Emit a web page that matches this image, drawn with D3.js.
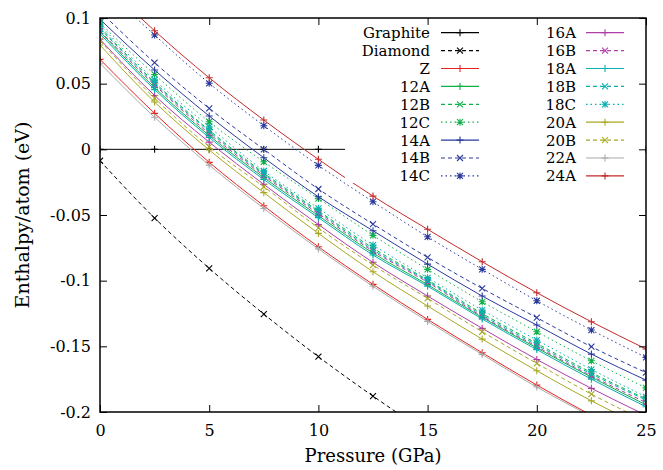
<!DOCTYPE html>
<html><head><meta charset="utf-8">
<script src="https://cdn.jsdelivr.net/npm/d3@7"></script>
<style>
body{margin:0;background:#fff}
svg{display:block}
</style>
</head><body>
<svg id="chart" width="663" height="470"></svg>
<script>
// ---------------- data ----------------
const pressure = [0, 2.5, 5, 7.5, 10, 12.5, 15, 17.5, 20, 22.5, 25];
const xTicks = [0, 5, 10, 15, 20, 25];
const yTicks = [0.1, 0.05, 0, -0.05, -0.1, -0.15, -0.2];
const yTickLabels = ["0.1", "0.05", "0", "-0.05", "-0.1", "-0.15", "-0.2"];

const graphite = [0, 0, 0, 0, 0, 0, 0, 0, 0, 0, 0];
const diamond  = [-0.0087, -0.0523, -0.0906, -0.1254, -0.1579, -0.1879, -0.216];
const z        = [0.0685, 0.0274, -0.0099, -0.0430, -0.0742, -0.1028, -0.1295, -0.1549, -0.1795, -0.2025, -0.224];
const s12A     = [0.0896, 0.0470, 0.0105, -0.0215, -0.0505, -0.0790, -0.1030, -0.1280, -0.1512, -0.1735, -0.1945];
const s12B     = [0.0930, 0.0510, 0.0145, -0.0180, -0.0468, -0.0752, -0.0995, -0.1250, -0.1478, -0.1700, -0.1900];
const s12C     = [0.0960, 0.0570, 0.0210, -0.0095, -0.0375, -0.0655, -0.0914, -0.1161, -0.1389, -0.1610, -0.1816];
const s14A     = [0.0990, 0.0604, 0.0254, -0.0064, -0.0361, -0.0620, -0.0874, -0.1117, -0.1338, -0.1559, -0.1757];
const s14B     = [0.1050, 0.0660, 0.0312, 0.0000, -0.0302, -0.0569, -0.0823, -0.1059, -0.1282, -0.1503, -0.1700];
const s14C     = [0.1260, 0.0870, 0.0503, 0.0180, -0.0122, -0.0399, -0.0666, -0.0914, -0.1153, -0.1376, -0.1584];
const s16A     = [0.0838, 0.0410, 0.0055, -0.0267, -0.0573, -0.0861, -0.1117, -0.1363, -0.1600, -0.1820, -0.2025];
const s16B     = [0.0900, 0.0490, 0.0120, -0.0200, -0.0490, -0.0775, -0.1012, -0.1272, -0.1502, -0.1725, -0.1928];
const s18A     = [0.0880, 0.0455, 0.0090, -0.0230, -0.0520, -0.0805, -0.1042, -0.1292, -0.1525, -0.1750, -0.1960];
const s18B     = [0.0920, 0.0500, 0.0135, -0.0190, -0.0478, -0.0765, -0.1003, -0.1262, -0.1490, -0.1711, -0.1909];
const s18C     = [0.0947, 0.0528, 0.0172, -0.0165, -0.0449, -0.0729, -0.0978, -0.1224, -0.1452, -0.1676, -0.1884];
const s20A     = [0.0794, 0.0360, -0.0005, -0.0330, -0.0640, -0.0932, -0.1193, -0.1445, -0.1686, -0.1915, -0.2120];
const s20B     = [0.0827, 0.0390, 0.0020, -0.0285, -0.0598, -0.0881, -0.1135, -0.1389, -0.1630, -0.1864, -0.2070];
const s22A     = [0.0655, 0.0244, -0.0120, -0.0450, -0.0758, -0.1043, -0.1310, -0.1562, -0.1810, -0.2035, -0.2250];
const s24A     = [0.1300, 0.0903, 0.0545, 0.0223, -0.0076, -0.0356, -0.0609, -0.0856, -0.1092, -0.1313, -0.1520];

const seriesNames  = ["Graphite","Diamond","Z","12A","12B","12C","14A","14B","14C","16A","16B","18A","18B","18C","20A","20B","22A","24A"];
const seriesValues = [graphite, diamond, z, s12A, s12B, s12C, s14A, s14B, s14C, s16A, s16B, s18A, s18B, s18C, s20A, s20B, s22A, s24A];
const seriesColors = ["#000000","#000000","#e8231e","#12b04a","#12b04a","#12b04a","#2a3a9c","#2a3a9c","#2a3a9c","#b03ea8","#b03ea8","#0aaeae","#0aaeae","#0aaeae","#a8a824","#a8a824","#aaaaaa","#c42a2a"];
const seriesDash   = ["solid","dash","solid","solid","dash","dot","solid","dash","dot","solid","dash","solid","dash","dot","solid","dash","solid","solid"];
const seriesMarker = ["plus","cross","plus","plus","cross","star","plus","cross","star","plus","cross","plus","cross","star","plus","cross","plus","plus"];

// ---------------- drawing ----------------
const FONT = "DejaVu Serif";
const svg = d3.select("#chart");
const L = 100, R = 646, T = 18, B = 412;
const x = d3.scaleLinear().domain([0, 25]).range([L, R]);
const y = d3.scaleLinear().domain([-0.2, 0.1]).range([B, T]);

svg.append("defs").append("clipPath").attr("id", "clip")
  .append("rect").attr("x", L).attr("y", T).attr("width", R - L).attr("height", B - T);

const dashMap = {solid: null, dash: "4,3", dot: "1.5,3"};
const markerPath = {
  plus:  "M-3.5,0H3.5M0,-3.5V3.5",
  cross: "M-3,-3L3,3M-3,3L3,-3",
  star:  "M-3.5,0H3.5M0,-3.5V3.5M-3,-3L3,3M-3,3L3,-3"
};

const line = d3.line().x(d => x(d[0])).y(d => y(d[1])).curve(d3.curveMonotoneX);
const plot = svg.append("g").attr("clip-path", "url(#clip)");

seriesNames.forEach((name, i) => {
  const pts = seriesValues[i].map((v, j) => [pressure[j], v]);
  const g = plot.append("g");
  g.append("path").datum(pts)
    .attr("d", line)
    .attr("fill", "none")
    .attr("stroke", seriesColors[i])
    .attr("stroke-width", 1)
    .attr("stroke-dasharray", dashMap[seriesDash[i]]);
  g.selectAll("path.m").data(pts).enter().append("path")
    .attr("class", "m")
    .attr("transform", d => `translate(${x(d[0])},${y(d[1])})`)
    .attr("d", markerPath[seriesMarker[i]])
    .attr("fill", "none")
    .attr("stroke", seriesColors[i])
    .attr("stroke-width", 1.1);
});

// ---------------- legend (opaque) ----------------
const leg = svg.append("g");
leg.append("rect").attr("x", 345).attr("y", T + 1).attr("width", R - 346).attr("height", 164).attr("fill", "#fff");
const rowH = 17.9, row0 = 32.7;
seriesNames.forEach((name, i) => {
  const col = i < 9 ? 0 : 1;
  const r = i % 9;
  const tx = col === 0 ? 430 : 576;
  const lx0 = col === 0 ? 441 : 586;
  const lx1 = lx0 + 38;
  const cy = row0 + r * rowH;
  leg.append("text").attr("x", tx).attr("y", cy).attr("dy", "0.36em")
    .attr("text-anchor", "end").attr("font-family", FONT).attr("font-size", 15).text(name);
  leg.append("line").attr("x1", lx0).attr("x2", lx1).attr("y1", cy).attr("y2", cy)
    .attr("stroke", seriesColors[i]).attr("stroke-width", 1.2)
    .attr("stroke-dasharray", dashMap[seriesDash[i]]);
  leg.append("path").attr("transform", `translate(${(lx0 + lx1) / 2},${cy})`)
    .attr("d", markerPath[seriesMarker[i]]).attr("fill", "none")
    .attr("stroke", seriesColors[i]).attr("stroke-width", 1.1);
});

// ---------------- axes ----------------
const fmtY = d => yTickLabels[yTicks.indexOf(d)];
const axL = svg.append("g").attr("transform", `translate(${L},0)`)
  .call(d3.axisLeft(y).tickValues(yTicks).tickSize(-7).tickPadding(9).tickFormat(fmtY));
const axR = svg.append("g").attr("transform", `translate(${R},0)`)
  .call(d3.axisRight(y).tickValues(yTicks).tickSize(-7).tickFormat(""));
const axB = svg.append("g").attr("transform", `translate(0,${B})`)
  .call(d3.axisBottom(x).tickValues(xTicks).tickSize(-7).tickPadding(13).tickFormat(d => String(d)));
const axT = svg.append("g").attr("transform", `translate(0,${T})`)
  .call(d3.axisTop(x).tickValues(xTicks).tickSize(-7).tickFormat(""));
[axL, axR, axB, axT].forEach(a => {
  a.attr("font-family", FONT).attr("font-size", 16);
  a.select(".domain").remove();
  a.selectAll(".tick line").attr("stroke", "#000").attr("stroke-width", 1);
});
svg.append("rect").attr("x", L).attr("y", T).attr("width", R - L).attr("height", B - T)
  .attr("fill", "none").attr("stroke", "#000").attr("stroke-width", 1.5);

svg.append("text").attr("x", (L + R) / 2).attr("y", 462).attr("text-anchor", "middle")
  .attr("font-family", FONT).attr("font-size", 18).text("Pressure (GPa)");
svg.append("text").attr("transform", `translate(29,${(T + B) / 2}) rotate(-90)`)
  .attr("text-anchor", "middle").attr("font-family", FONT).attr("font-size", 19).text("Enthalpy/atom (eV)");
</script>
</body></html>
